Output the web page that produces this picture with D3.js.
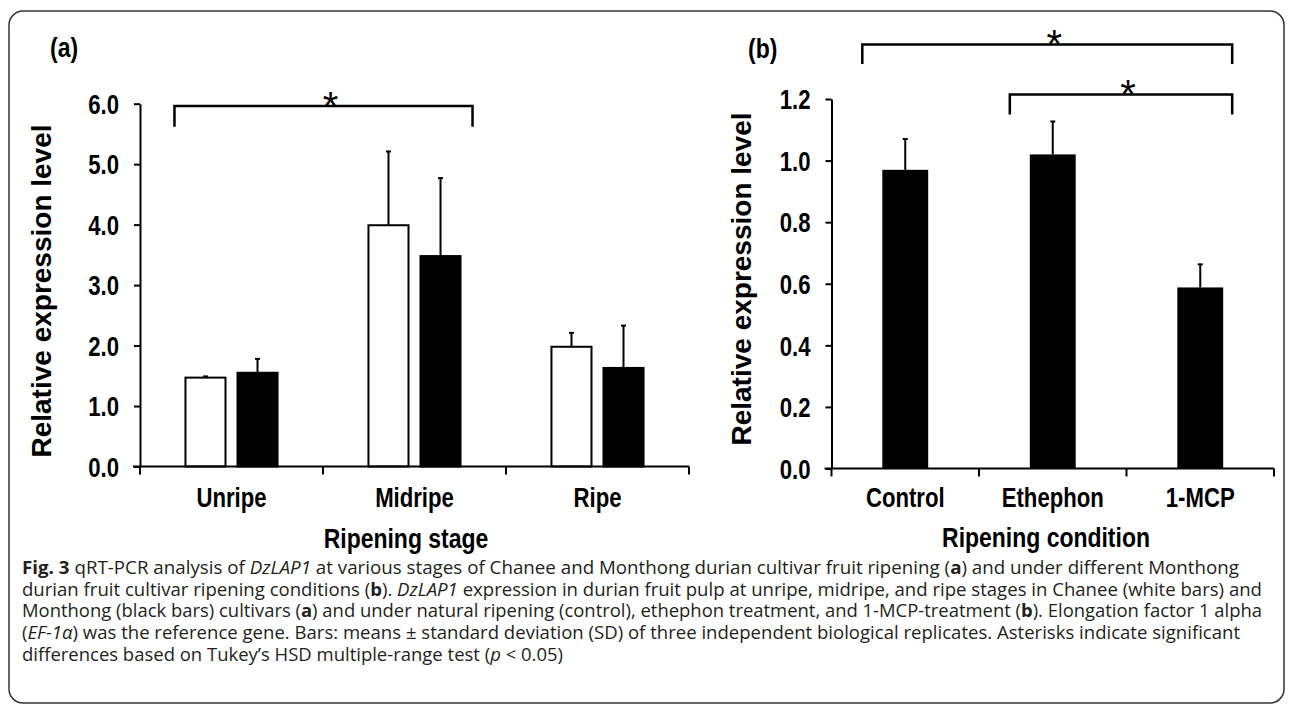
<!DOCTYPE html>
<html>
<head>
<meta charset="utf-8">
<script src="https://cdn.jsdelivr.net/npm/d3@7"></script>
<style>
  body { margin: 0; background: #fff; }
  .narrow { font-family: "Liberation Sans Narrow", "Arial Narrow", "Liberation Sans", sans-serif; font-weight: bold; }
  .wide { font-family: "Liberation Sans", Arial, sans-serif; font-weight: bold; }
  .caption { font-family: "Open Sans", "Noto Sans", sans-serif; font-size: 18px; fill: #231f20; }
</style>
</head>
<body>
<div id="chart"></div>
<script>
// panel (a): ripening stages, two cultivars
const stages = ["Unripe", "Midripe", "Ripe"];
const cultivars = ["Chanee", "Monthong"];
const chaneeMean = [1.47, 3.99, 1.98];
const chaneeSD = [0.02, 1.22, 0.23];
const monthongMean = [1.55, 3.48, 1.63];
const monthongSD = [0.23, 1.29, 0.70];
const ticksA = [0, 1, 2, 3, 4, 5, 6];

// panel (b): ripening conditions, Monthong only
const conditions = ["Control", "Ethephon", "1-MCP"];
const conditionMean = [0.97, 1.02, 0.588];
const conditionSD = [0.10, 0.107, 0.075];
const ticksB = [0, 0.2, 0.4, 0.6, 0.8, 1.0, 1.2];

// significance brackets (top level and leg end, in axis units)
const sigA = [{ from: "Unripe", to: "Midripe", top: 5.96, leg: 5.62 }];
const sigB = [
  { from: "Control", to: "1-MCP", top: 1.377, leg: 1.314 },
  { from: "Ethephon", to: "1-MCP", top: 1.215, leg: 1.15 }
];

const captionLines = [
  [["Fig. 3", "b"], [" qRT-PCR analysis of "], ["DzLAP1", "i"], [" at various stages of Chanee and Monthong durian cultivar fruit ripening ("], ["a", "b"], [") and under different Monthong"]],
  [["durian fruit cultivar ripening conditions ("], ["b", "b"], ["). "], ["DzLAP1", "i"], [" expression in durian fruit pulp at unripe, midripe, and ripe stages in Chanee (white bars) and"]],
  [["Monthong (black bars) cultivars ("], ["a", "b"], [") and under natural ripening (control), ethephon treatment, and 1-MCP-treatment ("], ["b", "b"], ["). Elongation factor 1 alpha"]],
  [["("], ["EF-1\u03b1", "i"], [") was the reference gene. Bars: means \u00b1 standard deviation (SD) of three independent biological replicates. Asterisks indicate significant"]],
  [["differences based on Tukey\u2019s HSD multiple-range test ("], ["p", "i"], [" < 0.05)"]]
];
const captionWidths = [1217, 1240, 1240, 1218, 541];

const svg = d3.select("#chart").append("svg")
  .attr("width", 1290)
  .attr("height", 704);

// squeeze bold Liberation Sans to look like a narrow face
function narrow(sel, k = 0.82) {
  sel.each(function () {
    const w = this.getComputedTextLength();
    d3.select(this).attr("textLength", w * k).attr("lengthAdjust", "spacingAndGlyphs");
  });
}

// outer frame
svg.append("rect")
  .attr("x", 9).attr("y", 11)
  .attr("width", 1275).attr("height", 692)
  .attr("rx", 14)
  .attr("fill", "none")
  .attr("stroke", "#333")
  .attr("stroke-width", 1.5);

function drawErrorBar(g, cx, y0, y1) {
  g.append("line").attr("x1", cx).attr("x2", cx).attr("y1", y0).attr("y2", y1)
    .attr("stroke", "#000").attr("stroke-width", 2);
  g.append("line").attr("x1", cx - 2.5).attr("x2", cx + 2.5).attr("y1", y1).attr("y2", y1)
    .attr("stroke", "#000").attr("stroke-width", 2);
}

function drawBracket(g, x1, x2, yTop, yLeg, starX) {
  g.append("path")
    .attr("d", `M${x1},${yLeg}V${yTop}H${x2}V${yLeg}`)
    .attr("fill", "none").attr("stroke", "#000").attr("stroke-width", 2.5);
  g.append("text")
    .attr("x", starX).attr("y", yTop + 14)
    .attr("text-anchor", "middle")
    .style("font-family", "'Liberation Sans', Arial, sans-serif")
    .style("font-size", "40px")
    .text("*");
}

function styleAxis(g) {
  g.selectAll("path, line").attr("stroke", "#000").attr("stroke-width", 2);
  g.selectAll("text").attr("class", "narrow").style("font-size", "27px").attr("fill", "#000");
  narrow(g.selectAll("text"));
}

// ---------- panel (a) ----------
{
  const left = 140, right = 689, top = 103.7, bottom = 466.5;
  const x0 = d3.scaleBand().domain(stages).range([left, right])
    .paddingInner(0.486).paddingOuter(0.243);
  const x1 = d3.scaleBand().domain(cultivars).range([0, x0.bandwidth()])
    .paddingInner(0.1923);
  const y = d3.scaleLinear().domain([0, 6]).range([bottom, top]);

  const g = svg.append("g");
  const series = [
    { name: "Chanee", mean: chaneeMean, sd: chaneeSD, fill: "#fff" },
    { name: "Monthong", mean: monthongMean, sd: monthongSD, fill: "#000" }
  ];

  series.forEach(s => {
    stages.forEach((st, i) => {
      const cx = x0(st) + x1(s.name) + x1.bandwidth() / 2;
      drawErrorBar(g, cx, y(s.mean[i]), y(s.mean[i] + s.sd[i]));
    });
    g.selectAll(null)
      .data(stages)
      .enter()
      .append("rect")
      .attr("x", d => x0(d) + x1(s.name) + 1)
      .attr("y", (d, i) => y(s.mean[i]))
      .attr("width", x1.bandwidth() - 2)
      .attr("height", (d, i) => y(0) - y(s.mean[i]))
      .attr("fill", s.fill)
      .attr("stroke", "#000")
      .attr("stroke-width", 2);
  });

  const yAxis = g.append("g")
    .attr("transform", `translate(${left},0)`)
    .call(d3.axisLeft(y).tickValues(ticksA).tickFormat(d3.format(".1f")).tickSize(6).tickSizeOuter(0).tickPadding(15));
  styleAxis(yAxis);
  yAxis.selectAll("text").attr("dy", "0.36em");

  const xAxis = g.append("g")
    .attr("transform", `translate(0,${bottom})`)
    .call(d3.axisBottom(x0).tickSize(0).tickSizeOuter(0).tickPadding(21));
  styleAxis(xAxis);
  xAxis.select(".domain").attr("d", `M${left - 7},0H${right}`);
  // category boundary ticks
  const bounds = stages.map(d => x0(d) - x0.step() * x0.paddingOuter()).concat([right]);
  xAxis.selectAll(".bound").data(bounds).enter().append("line")
    .attr("x1", d => d).attr("x2", d => d).attr("y1", 0).attr("y2", 8)
    .attr("stroke", "#000").attr("stroke-width", 2);

  narrow(g.append("text").attr("class", "narrow")
    .attr("x", 406).attr("y", 548)
    .attr("text-anchor", "middle")
    .style("font-size", "28px")
    .text("Ripening stage"));

  g.append("text").attr("class", "wide")
    .attr("transform", "translate(51,291) rotate(-90)")
    .attr("text-anchor", "middle")
    .style("font-size", "28px")
    .text("Relative expression level");

  narrow(g.append("text").attr("class", "narrow")
    .attr("x", 50).attr("y", 57)
    .style("font-size", "28px")
    .text("(a)"));

  sigA.forEach(s => {
    const xa = x0(s.from) - 10;
    const xb = x0(s.to) + x0.bandwidth() + 11;
    drawBracket(g, xa, xb, y(s.top), y(s.leg), (xa + xb) / 2 + 7);
  });
}

// ---------- panel (b) ----------
{
  const left = 831.5, right = 1274, top = 99, bottom = 468.5;
  const x = d3.scaleBand().domain(conditions).range([left, right])
    .paddingInner(0.689).paddingOuter(0.3445);
  const y = d3.scaleLinear().domain([0, 1.2]).range([bottom, top]);

  const g = svg.append("g");

  conditions.forEach((c, i) => {
    drawErrorBar(g, x(c) + x.bandwidth() / 2, y(conditionMean[i]), y(conditionMean[i] + conditionSD[i]));
  });
  g.selectAll(null)
    .data(conditions)
    .enter()
    .append("rect")
    .attr("x", d => x(d))
    .attr("y", (d, i) => y(conditionMean[i]))
    .attr("width", x.bandwidth())
    .attr("height", (d, i) => y(0) - y(conditionMean[i]))
    .attr("fill", "#000");

  const yAxis = g.append("g")
    .attr("transform", `translate(${left},0)`)
    .call(d3.axisLeft(y).tickValues(ticksB).tickFormat(d3.format(".1f")).tickSize(6).tickSizeOuter(0).tickPadding(15));
  styleAxis(yAxis);
  yAxis.selectAll("text").attr("dy", "0.36em");

  const xAxis = g.append("g")
    .attr("transform", `translate(0,${bottom})`)
    .call(d3.axisBottom(x).tickSize(0).tickSizeOuter(0).tickPadding(19));
  styleAxis(xAxis);
  xAxis.select(".domain").attr("d", `M${left - 7},0H${right}`);
  const bounds = conditions.map(d => x(d) - x.step() * x.paddingOuter()).concat([right]);
  xAxis.selectAll(".bound").data(bounds).enter().append("line")
    .attr("x1", d => d).attr("x2", d => d).attr("y1", 0).attr("y2", 8)
    .attr("stroke", "#000").attr("stroke-width", 2);

  narrow(g.append("text").attr("class", "narrow")
    .attr("x", 1046).attr("y", 547)
    .attr("text-anchor", "middle")
    .style("font-size", "28px")
    .text("Ripening condition"));

  g.append("text").attr("class", "wide")
    .attr("transform", "translate(751,279) rotate(-90)")
    .attr("text-anchor", "middle")
    .style("font-size", "28px")
    .text("Relative expression level");

  narrow(g.append("text").attr("class", "narrow")
    .attr("x", 748).attr("y", 58)
    .style("font-size", "28px")
    .text("(b)"));

  sigB.forEach(s => {
    const xa = x(s.from) - 20;
    const xb = x(s.to) + x.bandwidth() + 9;
    drawBracket(g, xa, xb, y(s.top), y(s.leg), (xa + xb) / 2 + 7);
  });
}

// ---------- caption ----------
const cap = svg.append("g");
captionLines.forEach((line, i) => {
  const t = cap.append("text")
    .attr("class", "caption")
    .attr("x", 22)
    .attr("y", 574 + i * 21.7)
    .attr("textLength", captionWidths[i])
    .attr("lengthAdjust", "spacingAndGlyphs");
  line.forEach(([str, st]) => {
    const ts = t.append("tspan").text(str);
    if (st === "b") ts.style("font-weight", "bold");
    if (st === "i") ts.style("font-style", "italic");
  });
});
</script>
</body>
</html>
